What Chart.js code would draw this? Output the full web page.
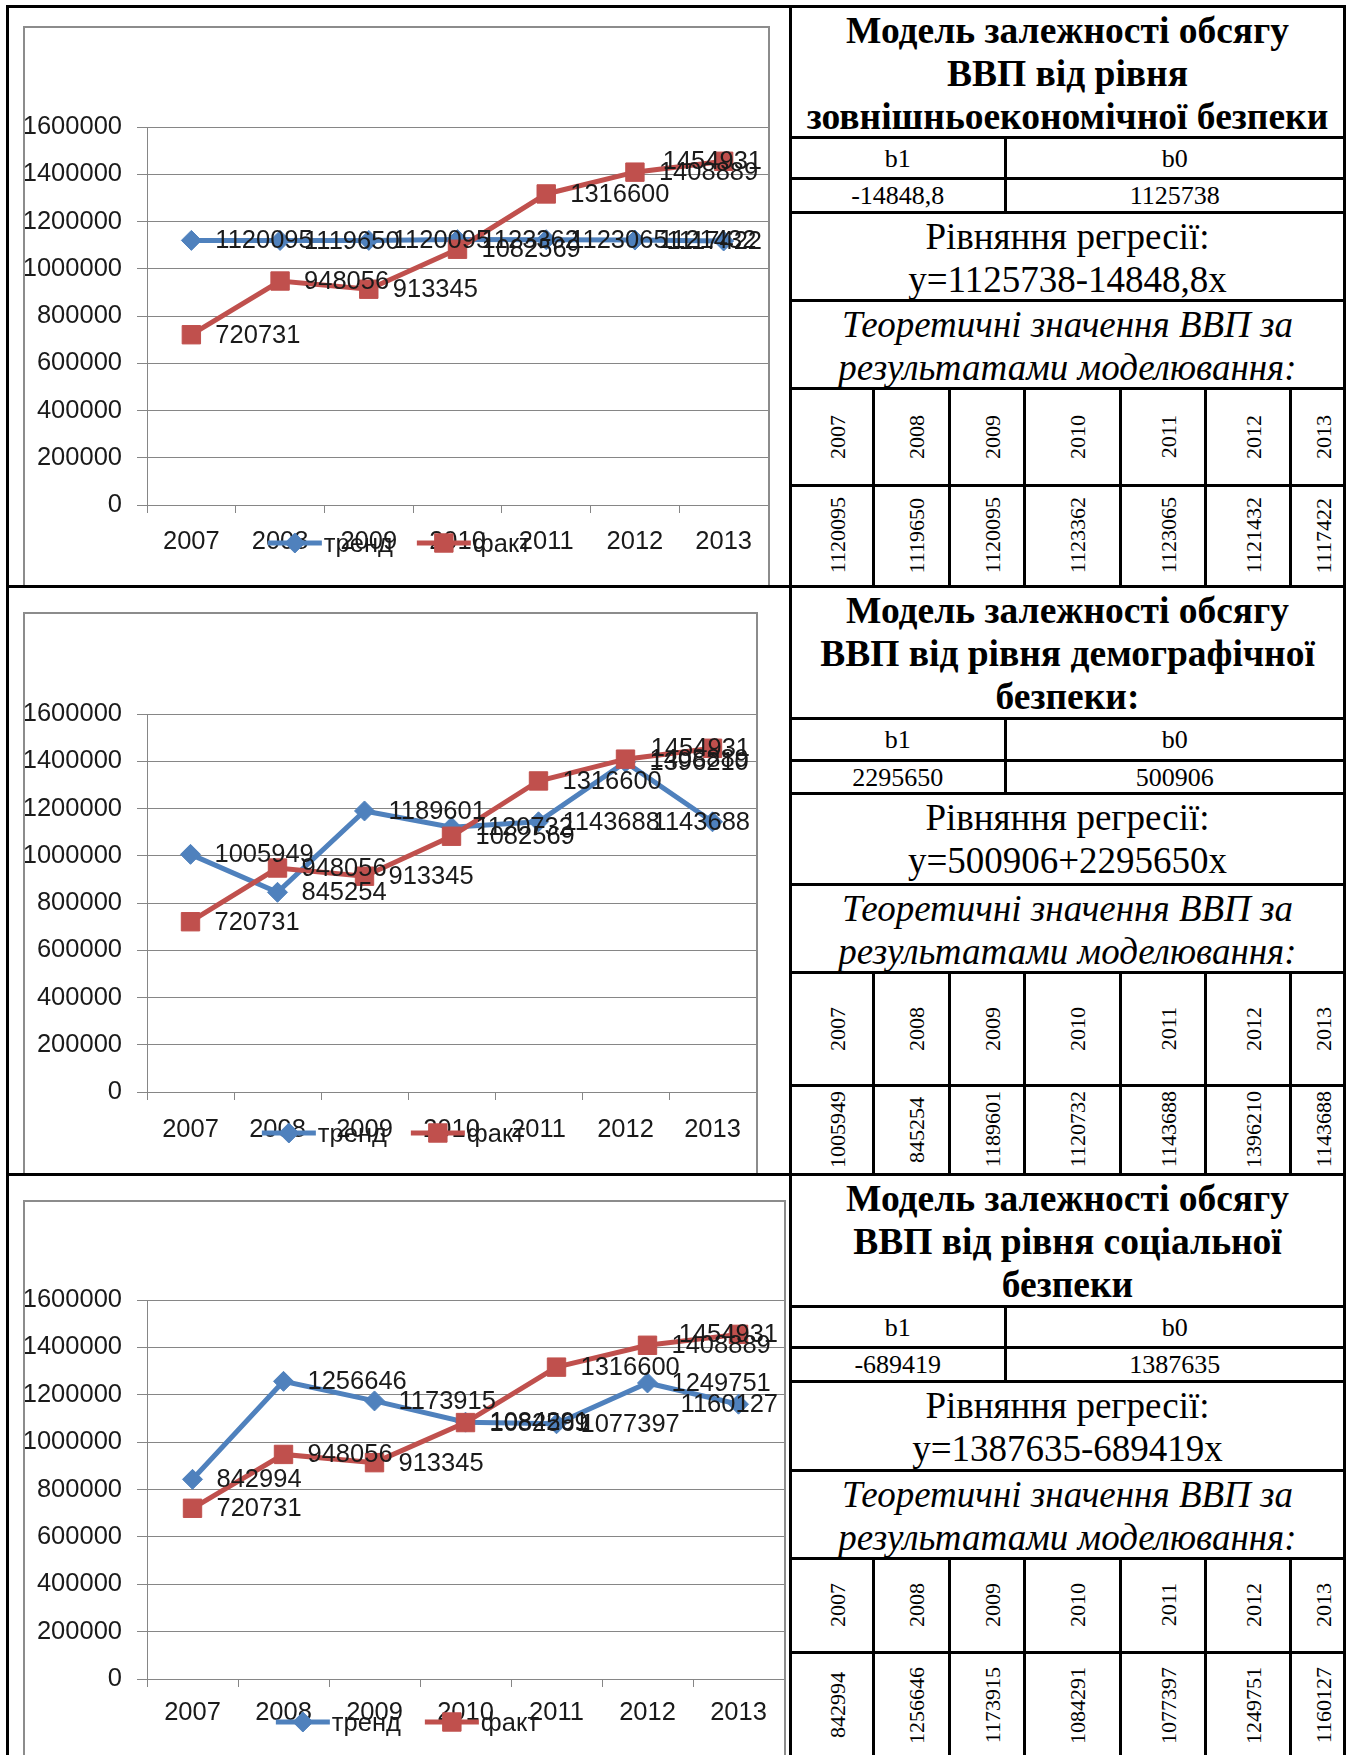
<!DOCTYPE html>
<html lang="uk">
<head>
<meta charset="utf-8">
<title>Моделі залежності обсягу ВВП</title>
<script src="https://cdn.jsdelivr.net/npm/chart.js@4.4.1/dist/chart.umd.min.js"></script>
<style>
  html, body { margin: 0; padding: 0; background: #fff; }
  #page { position: relative; width: 1350px; height: 1755px; overflow: hidden;
          font-family: "Liberation Serif", "Times New Roman", serif; color: #000; }
  .ln { position: absolute; background: #000; }
  .cell { position: absolute; overflow: hidden; }
  .frame { position: absolute; border: 2px solid #8c8c8c; box-sizing: border-box; }
  .frame canvas { position: absolute; left: 0; top: 0; }
  .txt { position: absolute; display: flex; align-items: center; justify-content: center;
         white-space: nowrap; font-size: 26px; line-height: 1; }
  .title { position: absolute; text-align: center; font-weight: bold; font-size: 37.5px;
           line-height: 43px; white-space: nowrap; }
  .two { position: absolute; text-align: center; font-size: 37px; line-height: 43px; white-space: nowrap; }
  .rot { writing-mode: vertical-rl; transform: rotate(180deg); font-size: 22px; line-height: 1;
         position: relative; left: 6px; }
</style>
</head>
<body>
<div id="page"></div>
<script>
// дані
const years = ['2007', '2008', '2009', '2010', '2011', '2012', '2013'];
const fakt = [720731, 948056, 913345, 1082569, 1316600, 1408889, 1454931];
const trendZovn = [1120095, 1119650, 1120095, 1123362, 1123065, 1121432, 1117422];
const trendDemo = [1005949, 845254, 1189601, 1120732, 1143688, 1396210, 1143688];
const trendSoc = [842994, 1256646, 1173915, 1084291, 1077397, 1249751, 1160127];
const yTicks = [0, 200000, 400000, 600000, 800000, 1000000, 1200000, 1400000, 1600000];
const seriesNames = ['тренд', 'факт'];
const titles = [
    ['Модель залежності обсягу', 'ВВП від рівня', 'зовнішньоекономічної безпеки'],
    ['Модель залежності обсягу', 'ВВП від рівня демографічної', 'безпеки:'],
    ['Модель залежності обсягу', 'ВВП від рівня соціальної', 'безпеки']
];
const coefB1 = ['-14848,8', '2295650', '-689419'];
const coefB0 = ['1125738', '500906', '1387635'];
const equations = ['y=1125738-14848,8x', 'y=500906+2295650x', 'y=1387635-689419x'];
const trends = [trendZovn, trendDemo, trendSoc];

const BLUE = '#4f81bd';
const RED = '#c0504d';
const GRID = '#868686';
const INK = '#1a1a1a';
const FONT = { family: '"Liberation Sans", Arial, sans-serif', size: 25.5 };

// геометрія сторінки
const X_LEFT = 7.5, X_MID = 790.5, X_RIGHT = 1344.5, X_B = 1005;
const colX = [873.5, 949, 1024, 1120, 1205, 1290.5];
const blocks = [
    { top: 6, bottom: 586, lines: [137, 178, 212, 300, 388, 485],
      frameTop: 26, plotTop: 127, plotBottom: 505, plotRight: 768, labelDy: 37, legendDy: 38 },
    { top: 586, bottom: 1174, lines: [718, 760, 793, 884, 972, 1085],
      frameTop: 612, plotTop: 714, plotBottom: 1092, plotRight: 756, labelDy: 38, legendDy: 41 },
    { top: 1174, bottom: 1759, lines: [1306, 1347, 1381, 1470, 1558, 1652],
      frameTop: 1200, plotTop: 1300, plotBottom: 1679, plotRight: 784, labelDy: 34, legendDy: 43 }
];

const page = document.getElementById('page');

function el(cls, css, html) {
    const d = document.createElement('div');
    d.className = cls;
    Object.assign(d.style, css);
    if (html !== undefined) d.innerHTML = html;
    page.appendChild(d);
    return d;
}
function hline(x1, x2, y) {
    el('ln', { left: (x1 - 1.5) + 'px', top: (y - 1.5) + 'px', width: (x2 - x1 + 3) + 'px', height: '3px' });
}
function vline(x, y1, y2) {
    el('ln', { left: (x - 1.5) + 'px', top: (y1 - 1.5) + 'px', width: '3px', height: (y2 - y1 + 3) + 'px' });
}
function box(text, x1, x2, y1, y2, extra) {
    return el('txt', Object.assign({ left: x1 + 'px', top: y1 + 'px',
        width: (x2 - x1) + 'px', height: (y2 - y1) + 'px' }, extra || {}), text);
}

// підписи значень праворуч від точок
const valueLabels = {
    id: 'valueLabels',
    afterDatasetsDraw(chart) {
        const { ctx, chartArea } = chart;
        ctx.save();
        ctx.font = FONT.size + 'px ' + FONT.family;
        ctx.fillStyle = INK;
        ctx.textBaseline = 'middle';
        ctx.textAlign = 'left';
        chart.data.datasets.forEach((ds, i) => {
            chart.getDatasetMeta(i).data.forEach((pt, j) => {
                const txt = String(ds.data[j]);
                const w = ctx.measureText(txt).width;
                const x = Math.min(pt.x + 24, chartArea.right - 6 - w);
                ctx.fillText(txt, x, pt.y + 1);
            });
        });
        ctx.restore();
    }
};

// легенда поверх підписів осі, як у Excel
const bottomLegend = {
    id: 'bottomLegend',
    afterDraw(chart, args, opts) {
        const { ctx, chartArea } = chart;
        ctx.save();
        ctx.font = FONT.size + 'px ' + FONT.family;
        const items = chart.data.datasets.map(ds => ({ ds, w: 56 + ctx.measureText(ds.label).width }));
        const total = items.reduce((s, it) => s + it.w, 0) + 24 * (items.length - 1);
        let x = chart.width / 2 + 3 - total / 2;
        const y = chartArea.bottom + opts.dy;
        items.forEach(({ ds, w }) => {
            ctx.strokeStyle = ds.borderColor;
            ctx.lineWidth = 5;
            ctx.beginPath();
            ctx.moveTo(x, y);
            ctx.lineTo(x + 54, y);
            ctx.stroke();
            ctx.fillStyle = ds.backgroundColor;
            ctx.lineWidth = 1;
            Chart.helpers.drawPoint(ctx, { pointStyle: ds.pointStyle, radius: ds.pointRadius, borderWidth: 1, rotation: 0 }, x + 27, y);
            ctx.fillStyle = INK;
            ctx.textBaseline = 'middle';
            ctx.textAlign = 'left';
            ctx.fillText(ds.label, x + 56, y + 2);
            x += w + 24;
        });
        ctx.restore();
    }
};

blocks.forEach((g, k) => {
    // рамки таблиці
    hline(X_LEFT, X_RIGHT, g.top);
    vline(X_LEFT, g.top, g.bottom);
    vline(X_MID, g.top, g.bottom);
    vline(X_RIGHT, g.top, g.bottom);
    g.lines.forEach(y => hline(X_MID, X_RIGHT, y));
    vline(X_B, g.lines[0], g.lines[2]);
    colX.forEach(x => vline(x, g.lines[4], g.bottom));

    // тексти таблиці
    el('title', { left: (X_MID + 1.5) + 'px', top: (g.top + 2.8) + 'px', width: (X_RIGHT - X_MID - 3) + 'px' },
        titles[k].join('<br>'));
    box('b1', X_MID, X_B, g.lines[0] + 1, g.lines[1] + 1);
    box('b0', X_B, X_RIGHT, g.lines[0] + 1, g.lines[1] + 1);
    box(coefB1[k], X_MID, X_B, g.lines[1] + 1, g.lines[2] + 1);
    box(coefB0[k], X_B, X_RIGHT, g.lines[1] + 1, g.lines[2] + 1);
    el('two', { left: X_MID + 'px', width: (X_RIGHT - X_MID) + 'px', top: (g.lines[2] + 3.3) + 'px' },
        'Рівняння регресії:<br>' + equations[k]);
    el('two', { left: X_MID + 'px', width: (X_RIGHT - X_MID) + 'px', top: (g.lines[3] + 3.3) + 'px', fontStyle: 'italic' },
        'Теоретичні значення ВВП за<br>результатами моделювання:');
    const edges = [X_MID, ...colX, X_RIGHT];
    const rowEnd = Math.min(g.bottom, 1758);
    years.forEach((yr, i) => {
        box('<span class="rot">' + yr + '</span>', edges[i], edges[i + 1], g.lines[4], g.lines[5]);
        box('<span class="rot">' + trends[k][i] + '</span>', edges[i], edges[i + 1], g.lines[5], rowEnd);
    });

    // графік
    const cellTop = g.top + 1.5, cellLeft = 9;
    const cell = el('cell', { left: cellLeft + 'px', top: cellTop + 'px',
        width: (X_MID - 1.5 - cellLeft) + 'px', height: (g.bottom - g.top - 3) + 'px' });
    const canvasTop = g.frameTop + 2;
    const canvasW = g.plotRight - 25;
    const canvasH = Math.round(g.bottom - 1.5 - canvasTop);
    const frame = document.createElement('div');
    frame.className = 'frame';
    Object.assign(frame.style, { left: (23 - cellLeft) + 'px', top: (g.frameTop - cellTop) + 'px',
        width: (canvasW + 4) + 'px', height: (canvasH + 24) + 'px' });
    cell.appendChild(frame);
    const canvas = document.createElement('canvas');
    canvas.width = canvasW;
    canvas.height = canvasH;
    frame.appendChild(canvas);

    const xAxisH = canvasH - (g.plotBottom - canvasTop);
    new Chart(canvas.getContext('2d'), {
        type: 'line',
        data: {
            labels: years,
            datasets: [{
                label: seriesNames[0],
                data: trends[k],
                borderColor: BLUE,
                backgroundColor: BLUE,
                borderWidth: 5,
                pointStyle: 'rectRot',
                pointRadius: 10,
                pointBorderWidth: 1,
                order: 1
            }, {
                label: seriesNames[1],
                data: fakt,
                borderColor: RED,
                backgroundColor: RED,
                borderWidth: 5,
                pointStyle: 'rect',
                pointRadius: 13,
                pointBorderWidth: 1,
                order: 0
            }]
        },
        options: {
            responsive: false,
            animation: false,
            layout: { autoPadding: false, padding: { top: g.plotTop - canvasTop, right: 0, bottom: 0, left: 0 } },
            plugins: {
                legend: { display: false },
                tooltip: { enabled: false },
                bottomLegend: { dy: g.legendDy }
            },
            scales: {
                x: {
                    offset: true,
                    grid: { offset: true, drawOnChartArea: false, tickLength: 8, color: GRID },
                    border: { color: GRID },
                    ticks: { padding: g.labelDy - 8 - 15.3, color: INK, font: FONT, maxRotation: 0, autoSkip: false },
                    afterFit: s => { s.height = xAxisH; s.paddingLeft = 0; s.paddingRight = 0; }
                },
                y: {
                    min: 0,
                    max: 1600000,
                    afterBuildTicks: s => { s.ticks = yTicks.map(v => ({ value: v })); },
                    grid: { color: GRID, tickLength: 10 },
                    border: { color: GRID },
                    ticks: { padding: 15, color: INK, font: FONT, callback: v => String(v) },
                    afterFit: s => { s.width = 122; s.paddingTop = 0; s.paddingBottom = 0; }
                }
            }
        },
        plugins: [valueLabels, bottomLegend]
    });
});
</script>
</body>
</html>
